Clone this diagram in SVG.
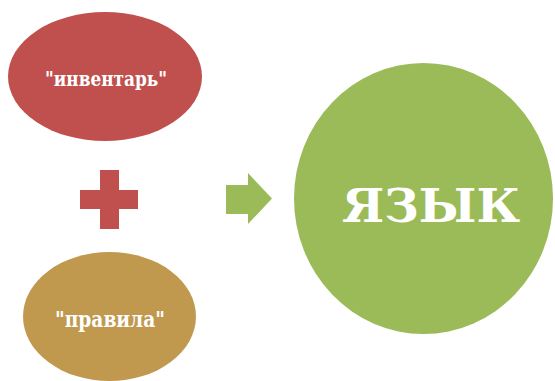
<svg xmlns="http://www.w3.org/2000/svg" width="555" height="381" viewBox="0 0 555 381">
  <style>
    .lbl { fill: #ffffff; font-family: "DejaVu Serif", "Liberation Serif", serif; font-weight: bold; text-anchor: middle; }
  </style>
  <rect x="0" y="0" width="555" height="381" fill="#ffffff"/>

  <g id="inventory">
    <ellipse cx="105" cy="76.5" rx="97" ry="64.5" fill="#C0504D"/>
    <text class="lbl" x="106" y="86" font-size="20" textLength="122" lengthAdjust="spacingAndGlyphs">"инвентарь"</text>
  </g>

  <g id="rules">
    <ellipse cx="109.5" cy="316.5" rx="86.5" ry="64.5" fill="#C0994F"/>
    <text class="lbl" x="110" y="327" font-size="23" textLength="110" lengthAdjust="spacingAndGlyphs">"правила"</text>
  </g>

  <g id="language">
    <ellipse cx="423.5" cy="198.5" rx="129.5" ry="135.5" fill="#9BBB59"/>
    <text class="lbl" x="431" y="222" font-size="47" textLength="178" lengthAdjust="spacingAndGlyphs">ЯЗЫК</text>
  </g>

  <g id="connectors">
    <!-- plus sign between the two ellipses -->
    <polygon points="100,170 119,170 119,190 138,190 138,209 119,209 119,229 100,229 100,209 80,209 80,190 100,190" fill="#C0504D"/>
    <!-- block arrow pointing to the circle -->
    <polygon points="226,185 248,185 248,173 272,198.5 248,224 248,214 226,214" fill="#9BBB59"/>
  </g>
</svg>
